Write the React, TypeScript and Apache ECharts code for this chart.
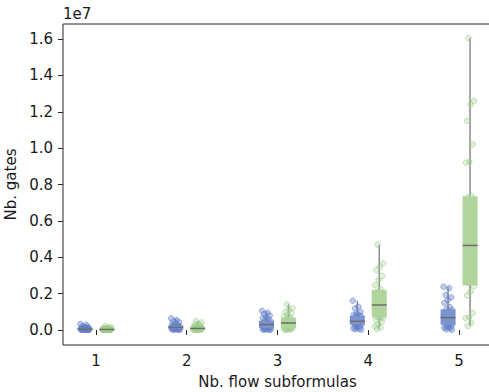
import React, { useEffect, useRef } from "react";
import * as echarts from "echarts";

// ---- data (values in millions of gates) ----
const categories = ["1", "2", "3", "4", "5"];
const hueNames = ["blue", "green"];

const blue1 = [0.33, 0.28, 0.22, 0.18, 0.15, 0.12, 0.1, 0.09, 0.08, 0.07, 0.07, 0.06, 0.06, 0.05, 0.05, 0.05, 0.04, 0.04, 0.04, 0.03, 0.03, 0.03, 0.02, 0.02, 0.02, 0.01, 0.01, 0.01, 0.01, 0.0];
const blue2 = [0.64, 0.55, 0.48, 0.42, 0.36, 0.31, 0.27, 0.24, 0.21, 0.19, 0.18, 0.17, 0.16, 0.15, 0.15, 0.14, 0.13, 0.12, 0.11, 0.1, 0.09, 0.08, 0.07, 0.06, 0.05, 0.04, 0.03, 0.02, 0.01, 0.0];
const blue3 = [1.05, 0.95, 0.88, 0.8, 0.72, 0.65, 0.58, 0.52, 0.48, 0.44, 0.4, 0.37, 0.34, 0.32, 0.31, 0.29, 0.26, 0.23, 0.2, 0.17, 0.14, 0.12, 0.1, 0.08, 0.06, 0.05, 0.03, 0.02, 0.01, 0.0];
const blue4 = [1.61, 1.28, 1.19, 1.0, 0.88, 0.84, 0.82, 0.78, 0.75, 0.68, 0.62, 0.57, 0.53, 0.5, 0.49, 0.47, 0.44, 0.41, 0.38, 0.35, 0.33, 0.31, 0.3, 0.24, 0.18, 0.14, 0.1, 0.07, 0.04, 0.02];
const blue5 = [2.38, 2.3, 1.92, 1.8, 1.65, 1.48, 1.26, 1.15, 1.1, 1.02, 0.95, 0.88, 0.8, 0.74, 0.7, 0.66, 0.6, 0.55, 0.5, 0.44, 0.38, 0.33, 0.28, 0.25, 0.2, 0.16, 0.12, 0.08, 0.04, 0.01];

const green1 = [0.22, 0.18, 0.14, 0.11, 0.09, 0.07, 0.06, 0.05, 0.05, 0.04, 0.04, 0.04, 0.03, 0.03, 0.03, 0.03, 0.02, 0.02, 0.02, 0.02, 0.02, 0.01, 0.01, 0.01, 0.01, 0.01, 0.0, 0.0, 0.0, 0.0];
const green2 = [0.49, 0.42, 0.35, 0.29, 0.24, 0.2, 0.17, 0.15, 0.13, 0.12, 0.11, 0.1, 0.1, 0.09, 0.09, 0.08, 0.08, 0.07, 0.06, 0.06, 0.05, 0.05, 0.04, 0.03, 0.03, 0.02, 0.02, 0.01, 0.01, 0.0];
const green3 = [1.4, 1.2, 1.1, 1.0, 0.92, 0.82, 0.74, 0.68, 0.63, 0.58, 0.53, 0.48, 0.44, 0.41, 0.4, 0.37, 0.33, 0.28, 0.24, 0.2, 0.16, 0.13, 0.1, 0.09, 0.07, 0.05, 0.04, 0.03, 0.02, 0.01];
const green4 = [4.69, 3.67, 3.48, 3.3, 2.97, 2.75, 2.47, 2.24, 2.1, 1.95, 1.8, 1.65, 1.52, 1.42, 1.4, 1.35, 1.2, 1.1, 1.0, 0.9, 0.8, 0.72, 0.68, 0.6, 0.55, 0.45, 0.31, 0.2, 0.13, 0.07];
const green5 = [16.05, 12.6, 12.4, 11.5, 10.2, 9.24, 9.2, 7.37, 7.3, 6.8, 6.3, 5.8, 5.4, 5.0, 4.7, 4.6, 4.3, 4.0, 3.6, 3.2, 2.9, 2.6, 2.4, 2.1, 1.9, 0.93, 0.7, 0.65, 0.4, 0.22];

const blueGroups = [blue1, blue2, blue3, blue4, blue5];
const greenGroups = [green1, green2, green3, green4, green5];

const valueUnit = 1e6;
const yTickValues = [0, 2e6, 4e6, 6e6, 8e6, 10e6, 12e6, 14e6, 16e6];
const yTickLabels = ["0.0", "0.2", "0.4", "0.6", "0.8", "1.0", "1.2", "1.4", "1.6"];
const xTickValues = [1, 2, 3, 4, 5];
const offsetLabel = "1e7";
const xTitle = "Nb. flow subformulas";
const yTitle = "Nb. gates";

// ---- styling / layout ----
const FONT = "DejaVu Sans";
const FS = 15;
const DODGE = 0.121;
const BOX_W = 0.165;
const JITTER_W = 0.1;
const BLUE_BOX = "#7b93cd";
const GREEN_BOX = "#afd49c";
const BLUE_PT = "rgba(100,128,202,0.5)";
const BLUE_PT_EDGE = "rgba(100,128,202,0.7)";
const GREEN_PT = "rgba(165,210,145,0.4)";
const GREEN_PT_EDGE = "rgba(155,202,135,0.7)";
const TEXT = "#1a1a1a";

function quantile(sortedAsc: number[], p: number) {
  const pos = (sortedAsc.length - 1) * p;
  const lo = Math.floor(pos);
  const hi = Math.ceil(pos);
  return sortedAsc[lo] + (sortedAsc[hi] - sortedAsc[lo]) * (pos - lo);
}

function boxRows(groups: number[][], dodge: number) {
  return groups.map((g, i) => {
    const s = g.map((v) => v * valueUnit).sort((a, b) => a - b);
    return [i + 1 + dodge, s[0], quantile(s, 0.25), quantile(s, 0.5), quantile(s, 0.75), s[s.length - 1]];
  });
}

function pointRows(groups: number[][], dodge: number, seed: number) {
  const rows: number[][] = [];
  groups.forEach((g, i) => {
    g.forEach((v, k) => {
      const j = (((k + seed) * 0.6180339887) % 1) - 0.5;
      rows.push([i + 1 + dodge + j * JITTER_W, v * valueUnit]);
    });
  });
  return rows;
}

function whiskerSeries(data: number[][]) {
  return {
    type: "custom",
    z: 1,
    data,
    encode: { x: 0, y: [1, 5] },
    renderItem: (_p: any, api: any) => {
      const x = api.value(0);
      const a = api.coord([x, api.value(1)]);
      const b = api.coord([x, api.value(5)]);
      return {
        type: "line",
        shape: { x1: a[0], y1: a[1], x2: b[0], y2: b[1] },
        style: { stroke: "#8a8a8a", lineWidth: 1.5 },
      };
    },
  };
}

function boxSeries(data: number[][], color: string) {
  return {
    type: "custom",
    z: 3,
    data,
    encode: { x: 0, y: [2, 3, 4] },
    renderItem: (_p: any, api: any) => {
      const x = api.value(0);
      const half = api.size([BOX_W, 0])[0] / 2;
      const q1 = api.coord([x, api.value(2)]);
      const med = api.coord([x, api.value(3)]);
      const q3 = api.coord([x, api.value(4)]);
      return {
        type: "group",
        children: [
          {
            type: "rect",
            shape: { x: q1[0] - half, y: q3[1], width: half * 2, height: Math.max(q1[1] - q3[1], 0.5) },
            style: { fill: color },
          },
          {
            type: "line",
            shape: { x1: q1[0] - half, y1: med[1], x2: q1[0] + half, y2: med[1] },
            style: { stroke: "#6c6c6c", lineWidth: 1.5 },
          },
        ],
      };
    },
  };
}

function pointSeries(data: number[][], fill: string, edge: string) {
  return {
    type: "scatter",
    z: 2,
    data,
    symbol: "circle",
    symbolSize: 5.5,
    itemStyle: { color: fill, borderColor: edge, borderWidth: 1 },
  };
}

export default function App() {
  const ref = useRef<HTMLDivElement>(null);
  useEffect(() => {
    document.body.style.margin = "0";
    const chart = echarts.init(ref.current!, null, { renderer: "svg" });
    chart.setOption({
      animation: false,
      textStyle: { fontFamily: FONT },
      grid: {
        left: 63,
        top: 24,
        right: 3,
        bottom: 47,
        containLabel: false,
        outerBoundsMode: "none",
        show: true,
        borderColor: "#262626",
        borderWidth: 1,
      },
      xAxis: {
        type: "value",
        min: 0.637,
        max: 5.363,
        splitLine: { show: false },
        axisLine: { show: false },
        axisTick: { show: true, length: 5, customValues: xTickValues, lineStyle: { color: "#262626" } },
        axisLabel: {
          customValues: xTickValues,
          formatter: (v: number) => categories[Math.round(v) - 1],
          fontSize: FS,
          color: TEXT,
          fontFamily: FONT,
          margin: 8,
        },
        name: xTitle,
        nameLocation: "middle",
        nameGap: 29,
        nameTextStyle: { fontSize: FS, color: TEXT, fontFamily: FONT },
      },
      yAxis: {
        type: "value",
        min: -825000,
        max: 16825000,
        splitLine: { show: false },
        axisLine: { show: false },
        axisTick: { show: true, length: 5, customValues: yTickValues, lineStyle: { color: "#262626" } },
        axisLabel: {
          customValues: yTickValues,
          formatter: (v: number) => {
            const idx = yTickValues.indexOf(v);
            return idx >= 0 ? yTickLabels[idx] : "";
          },
          fontSize: FS,
          color: TEXT,
          fontFamily: FONT,
          margin: 10,
        },
        name: yTitle,
        nameLocation: "middle",
        nameGap: 41,
        nameTextStyle: { fontSize: FS, color: TEXT, fontFamily: FONT },
      },
      graphic: [
        {
          type: "text",
          left: 63,
          top: 6,
          style: { text: offsetLabel, font: `${FS}px ${FONT}`, fill: TEXT },
        },
      ],
      series: [
        whiskerSeries(boxRows(blueGroups, -DODGE)),
        whiskerSeries(boxRows(greenGroups, DODGE)),
        pointSeries(pointRows(blueGroups, -DODGE, 0), BLUE_PT, BLUE_PT_EDGE),
        pointSeries(pointRows(greenGroups, DODGE, 7), GREEN_PT, GREEN_PT_EDGE),
        boxSeries(boxRows(blueGroups, -DODGE), BLUE_BOX),
        boxSeries(boxRows(greenGroups, DODGE), GREEN_BOX),
      ],
    });
    return () => chart.dispose();
  }, []);
  return (
    <div style={{ width: 489, height: 392, overflow: "hidden" }}>
      <div ref={ref} style={{ width: 495, height: 392 }} />
    </div>
  );
}
